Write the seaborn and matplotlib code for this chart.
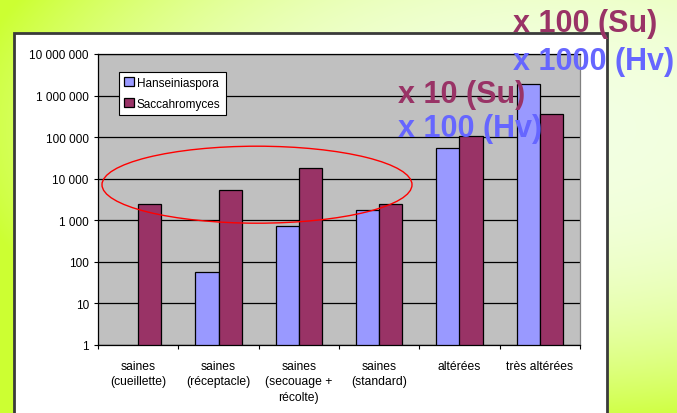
import numpy as np
import pandas as pd
import matplotlib
matplotlib.use("Agg")
import matplotlib.pyplot as plt
from matplotlib.patches import Rectangle, Ellipse
from matplotlib.ticker import FixedLocator, FuncFormatter, NullLocator
import seaborn as sns

# ---- donnees ----
categories = ["saines\n(cueillette)", "saines\n(réceptacle)", "saines\n(secouage +\nrécolte)",
              "saines\n(standard)", "altérées", "très altérées"]
hanseniaspora = [np.nan, 58, 715, 1760, 53500, 1850000]
saccharomyces = [2450, 5400, 18300, 2450, 107000, 357000]
series_names = ["Hanseiniaspora", "Saccahromyces"]
series_colors = ["#9999FF", "#993366"]
y_ticks = [1, 10, 100, 1000, 10000, 100000, 1000000, 10000000]

# annotations (texte, couleur)
notes = [("x 100 (Su)", "#993366"), ("x 1000 (Hv)", "#6666FF"),
         ("x 10 (Su)", "#993366"), ("x 100 (Hv)", "#6666FF")]

df = pd.DataFrame({
    "categorie": categories * 2,
    "espece": [series_names[0]] * len(categories) + [series_names[1]] * len(categories),
    "valeur": hanseniaspora + saccharomyces,
})

plt.rcParams["font.family"] = ["Liberation Sans", "DejaVu Sans"]

W, H = 677, 414
fig = plt.figure(figsize=(W / 100, H / 100), dpi=100)

# fond degrade vert/jaune (style diapositive)
bg = fig.add_axes([0, 0, 1, 1], zorder=-3)
yy, xx = np.mgrid[0:H, 0:W]
r = np.sqrt(((xx - 560) / 600.0) ** 2 + ((yy - 130) / 300.0) ** 2)
t = np.clip(r, 0, 1) ** 2.5
lime = np.array([0xCC, 0xFF, 0x33]) / 255.0
pale = np.array([0xF3, 0xFF, 0xE2]) / 255.0
img = pale[None, None, :] + (lime - pale)[None, None, :] * t[:, :, None]
bg.imshow(img, aspect="auto", extent=[0, 1, 0, 1], origin="upper")
bg.axis("off")

# cadre blanc du graphique
fig.add_artist(Rectangle((14 / W, 0 - 0.05), (607 - 14) / W, 1 - 34 / H + 0.05,
                         transform=fig.transFigure, facecolor="white",
                         edgecolor="#3a3a3a", linewidth=2, zorder=-2))

ax = fig.add_axes([98 / W, (H - 346) / H, (580 - 98) / W, (346 - 55) / H])
ax.set_yscale("log")
ax.set_facecolor("#C0C0C0")

sns.barplot(data=df, x="categorie", y="valeur", hue="espece", order=categories,
            hue_order=series_names, palette=series_colors, saturation=1, width=0.58, gap=0,
            errorbar=None, edgecolor="black", linewidth=0.9, ax=ax)

ax.set_ylim(1, 1e7)
ax.set_xlim(-0.5, len(categories) - 0.5)
ax.set_xlabel("")
ax.set_ylabel("")

ax.yaxis.set_major_locator(FixedLocator(y_ticks))
ax.yaxis.set_minor_locator(NullLocator())
ax.yaxis.set_major_formatter(FuncFormatter(lambda v, p: f"{int(round(v)):,}".replace(",", " ")))
ax.tick_params(axis="y", length=3, width=0.8, pad=3.6, labelsize=8.5, colors="black")

ax.set_xticks(range(len(categories)))
ax.set_xticklabels(categories, fontsize=8.7, linespacing=1.4)
ax.tick_params(axis="x", which="major", length=0, pad=10.5)
ax.set_xticks(np.arange(-0.5, len(categories), 1), minor=True)
ax.tick_params(axis="x", which="minor", length=3, width=0.8)

ax.set_axisbelow(True)
ax.yaxis.grid(True, color="black", linewidth=0.9)
ax.xaxis.grid(False)
for s in ["left", "bottom", "top"]:
    ax.spines[s].set_color("black")
    ax.spines[s].set_linewidth(0.9)
ax.spines["right"].set_color("#808080")
ax.spines["right"].set_linewidth(0.9)

handles, labels = ax.get_legend_handles_labels()
leg = ax.legend(handles, labels, loc="upper left", bbox_to_anchor=((119 - 98) / 482, (346 - 72.7) / 291),
                borderaxespad=0, fontsize=8.5, frameon=True, fancybox=False, framealpha=1,
                edgecolor="black", handlelength=0.8, handleheight=0.8, handletextpad=0.25,
                labelspacing=0.75, borderpad=0.45, title=None)
leg.get_frame().set_linewidth(0.8)

# ellipse rouge (mise en evidence)
fig.add_artist(Ellipse((257 / W, 1 - 185.7 / H), 310 / W, 77 / H, transform=fig.transFigure,
                       fill=False, edgecolor="#FF0000", linewidth=1, zorder=5))

# textes de facteur
pos = [(513, 32.3), (513, 70), (398, 102.7), (398, 137.3)]
for (txt, col), (px, py) in zip(notes, pos):
    fig.text(px / W, 1 - py / H, txt, color=col, fontsize=22, fontweight="bold",
             ha="left", va="baseline", zorder=6)

fig.savefig("out.png", dpi=100)
